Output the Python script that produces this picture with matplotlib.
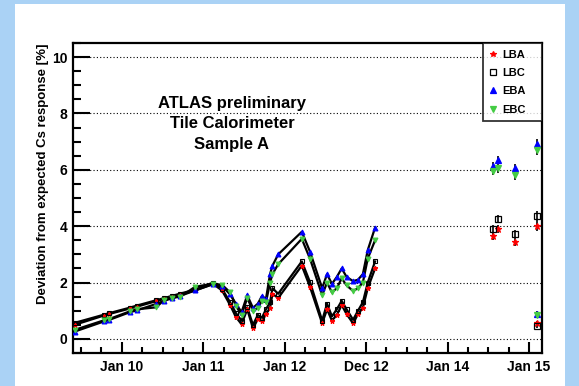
"""Tile Calorimeter Cs response drift, sample A, per partition."""
import matplotlib.pyplot as plt
from matplotlib.patches import Rectangle
from matplotlib.ticker import FixedLocator, MultipleLocator

plt.rcParams["font.family"] = ["Liberation Sans", "DejaVu Sans"]
plt.rcParams["font.weight"] = "bold"

# Cs scan dates (decimal year) for the Run-1 period, joined by lines
run_dates = [2009.42, 2009.78, 2009.84, 2010.10, 2010.18, 2010.42, 2010.52,
             2010.62, 2010.72, 2010.90, 2011.12, 2011.23, 2011.33, 2011.40,
             2011.47, 2011.54, 2011.61, 2011.67, 2011.72, 2011.77, 2011.82,
             2011.85, 2011.92, 2012.21, 2012.31, 2012.46, 2012.52, 2012.58,
             2012.64, 2012.70, 2012.76, 2012.84, 2012.90, 2012.96, 2013.02,
             2013.11]

lba_run = [0.50, 0.83, 0.88, 1.08, 1.14, 1.34, 1.42, 1.50, 1.57, 1.72, 1.95,
           1.72, 1.20, 0.78, 0.52, 1.05, 0.38, 0.70, 0.62, 0.88, 1.10, 1.60,
           1.45, 2.60, 1.85, 0.55, 1.05, 0.65, 0.85, 1.20, 0.88, 0.55, 0.88,
           1.10, 1.80, 2.50]
lbc_run = [0.57, 0.86, 0.91, 1.11, 1.18, 1.37, 1.45, 1.53, 1.61, 1.75, 2.00,
           1.78, 1.30, 0.92, 0.65, 1.12, 0.50, 0.85, 0.75, 1.05, 1.30, 1.80,
           1.60, 2.75, 2.02, 0.65, 1.25, 0.80, 1.05, 1.35, 1.05, 0.68, 1.00,
           1.30, 2.00, 2.75]
eba_run = [0.26, 0.62, 0.67, 0.95, 1.01, 1.24, 1.35, 1.45, 1.53, 1.72, 1.94,
           1.88, 1.58, 1.25, 0.95, 1.55, 1.10, 1.25, 1.52, 1.42, 2.30, 2.60,
           3.00, 3.80, 3.10, 1.80, 2.30, 1.95, 2.20, 2.50, 2.20, 2.05, 2.10,
           2.30, 3.15, 3.95]
ebc_run = [0.32, 0.66, 0.70, 0.98, 1.05, 1.12, 1.38, 1.46, 1.50, 1.85, 1.96,
           1.92, 1.65, 1.18, 0.85, 1.45, 1.00, 1.10, 1.35, 1.30, 2.00, 2.30,
           2.65, 3.55, 2.85, 1.55, 2.00, 1.65, 1.80, 2.15, 1.90, 1.70, 1.80,
           2.00, 2.85, 3.50]

# Scans after the long shutdown, shown as points with errors
late_dates = [2014.56, 2014.62, 2014.83, 2015.10, 2015.10]
lba_late = [3.65, 3.90, 3.44, 4.00, 0.57]
lbc_late = [3.90, 4.26, 3.72, 4.36, 0.45]
eba_late = [6.12, 6.35, 6.05, 6.90, 0.90]
ebc_late = [5.95, 6.05, 5.80, 6.72, 0.85]
late_err = [0.15, 0.15, 0.15, 0.18, 0.08]

series = [
    ("LBA", lba_run, lba_late, "*", "red", "red"),
    ("LBC", lbc_run, lbc_late, "s", "none", "black"),
    ("EBA", eba_run, eba_late, "^", "blue", "blue"),
    ("EBC", ebc_run, ebc_late, "v", "#44cc44", "#44cc44"),
]

year_ticks = [2010, 2011, 2012, 2013, 2014, 2015]
year_labels = ["Jan 10", "Jan 11", "Jan 12", "Dec 12", "Jan 14", "Jan 15"]

fig = plt.figure(figsize=(5.79, 3.86), dpi=100)
fig.patch.set_facecolor("#aad2f5")
fig.patches.append(Rectangle((15 / 579, 0), 550 / 579, 382 / 386,
                             transform=fig.transFigure, facecolor="white",
                             edgecolor="none", zorder=-10))

ax = fig.add_axes([73 / 579, 1 - 353 / 386, 469 / 579, 310 / 386])

for name, run, late, mk, fc, ec in series:
    ax.plot(run_dates, run, color="black", lw=1.6, zorder=2)
    ax.plot(run_dates, run, ls="none", marker=mk, ms=3.5, mfc=fc, mec=ec,
            mew=0.8, zorder=3)
    ax.errorbar(late_dates, late, yerr=late_err, fmt="none", ecolor="black",
                elinewidth=1.2, capsize=0, zorder=3)
    ax.plot(late_dates, late, ls="none", marker=mk, ms=5, mfc=fc, mec=ec,
            mew=0.9, zorder=4, label=name)

ax.set_xlim(2009.40, 2015.16)
ax.set_ylim(-0.5, 10.5)
ax.xaxis.set_major_locator(FixedLocator(year_ticks))
ax.set_xticklabels(year_labels)
ax.xaxis.set_minor_locator(MultipleLocator(0.25))
ax.yaxis.set_major_locator(FixedLocator([0, 2, 4, 6, 8, 10]))
ax.yaxis.set_minor_locator(MultipleLocator(0.5))

ax.tick_params(axis="both", which="both", direction="in", top=False,
               right=False, labelsize=10, width=1.5)
ax.tick_params(axis="y", which="major", length=12, pad=4)
ax.tick_params(axis="y", which="minor", length=6)
ax.tick_params(axis="x", which="major", length=8, pad=5)
ax.tick_params(axis="x", which="minor", length=4)
for lab in ax.get_xticklabels() + ax.get_yticklabels():
    lab.set_fontweight("bold")
for sp in ax.spines.values():
    sp.set_linewidth(1.6)

ax.grid(axis="y", which="major", color="black", lw=0.8, ls=(0, (1, 2)))
ax.set_axisbelow(True)

ax.set_ylabel("Deviation from expected Cs response [%]", fontsize=9.5,
              fontweight="bold", loc="top", labelpad=2)

ax.text(0.339, 0.74, "ATLAS preliminary\nTile Calorimeter\nSample A",
        transform=ax.transAxes, ha="center", va="center", fontsize=12,
        fontweight="bold", linespacing=1.45)

leg = ax.legend(loc="upper left", bbox_to_anchor=(0.874, 0, 0.126, 1),
                mode="expand", borderaxespad=0, fontsize=8, frameon=True,
                fancybox=False, handlelength=0.6, handletextpad=0.5,
                labelspacing=0.75, borderpad=0.6, markerscale=0.8)
leg.get_frame().set_edgecolor("black")
leg.get_frame().set_linewidth(1.3)
for t in leg.get_texts():
    t.set_fontweight("bold")

fig.savefig("out.png", dpi=100, facecolor=fig.get_facecolor())
